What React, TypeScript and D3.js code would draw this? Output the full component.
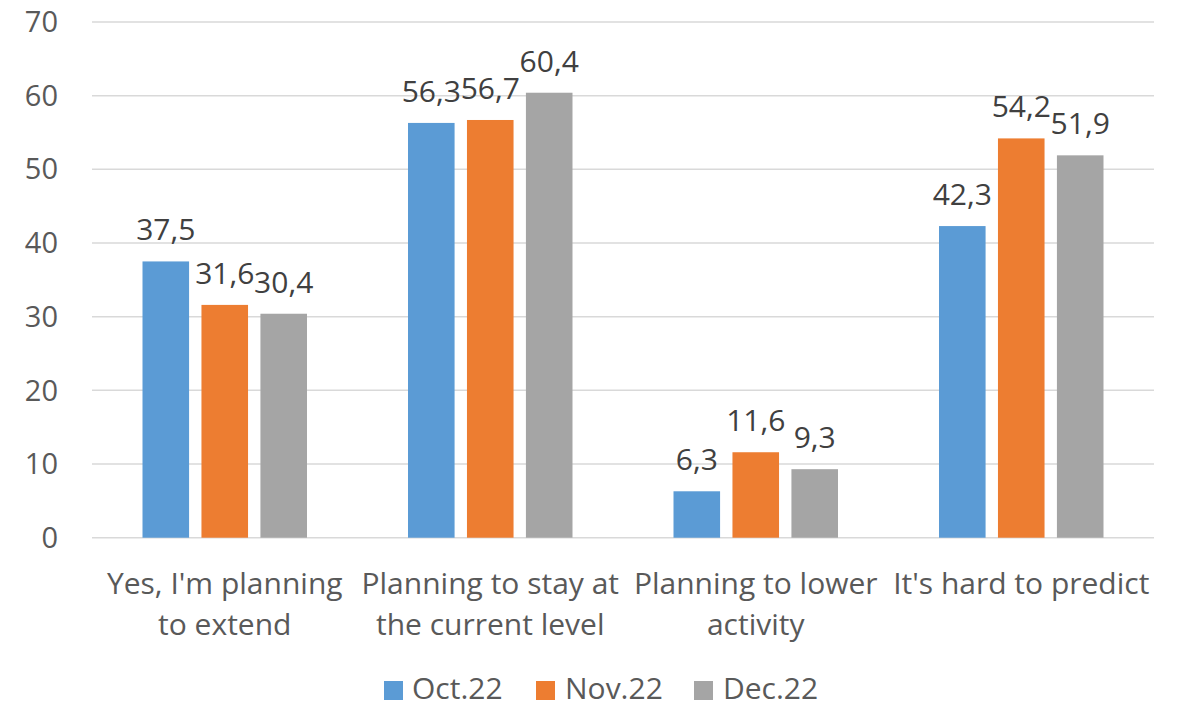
import React from "react";
import * as d3 from "d3";

const categories: string[][] = [
  ["Yes, I'm planning", "to extend"],
  ["Planning to stay at", "the current level"],
  ["Planning to lower", "activity"],
  ["It's hard to predict"],
];
const seriesNames = ["Oct.22", "Nov.22", "Dec.22"];
const oct22 = [37.5, 56.3, 6.3, 42.3];
const nov22 = [31.6, 56.7, 11.6, 54.2];
const dec22 = [30.4, 60.4, 9.3, 51.9];
const seriesValues = [oct22, nov22, dec22];
const colors = ["#5B9BD5", "#ED7D31", "#A5A5A5"];
const yTicks = [0, 10, 20, 30, 40, 50, 60, 70];

const W = 1177;
const H = 703;
const FONT = "'Open Sans', 'Noto Sans', sans-serif";

export default function App() {
  const catIdx = categories.map((_, i) => String(i));
  const x0 = d3.scaleBand<string>().domain(catIdx).range([92, 1154]).padding(0);
  const cw = x0.bandwidth();
  const x1 = d3
    .scaleBand<string>()
    .domain(seriesNames)
    .range([50.5, cw - 50.5])
    .paddingInner(0.21)
    .paddingOuter(0);
  const y = d3.scaleLinear().domain([0, 70]).range([537.7, 22]);
  const fmt = (v: number) => v.toFixed(1).replace(".", ",");

  const legendItems = [
    { sx: 384, tx: 412 },
    { sx: 536, tx: 565 },
    { sx: 694, tx: 723 },
  ];

  return (
    <svg
      width={W}
      height={H}
      style={{ position: "absolute", left: 0, top: 0, background: "#fff" }}
      fontFamily={FONT}
    >
      <rect x={0} y={0} width={W} height={H} fill="#fff" />
      {yTicks.map((t) => (
        <g key={t}>
          <line x1={92} x2={1154} y1={y(t)} y2={y(t)} stroke="#D9D9D9" strokeWidth={1.5} />
          <text
            x={58}
            y={y(t)}
            dy="0.35em"
            textAnchor="end"
            fontSize={29}
            fill="#595959"
          >
            {t}
          </text>
        </g>
      ))}
      {catIdx.map((c, ci) => (
        <g key={c} transform={`translate(${x0(c)},0)`}>
          {seriesNames.map((s, si) => {
            const v = seriesValues[si][ci];
            const bx = x1(s)!;
            return (
              <g key={s}>
                <rect
                  x={bx}
                  y={y(v)}
                  width={x1.bandwidth()}
                  height={y(0) - y(v)}
                  fill={colors[si]}
                />
                <text
                  x={bx + x1.bandwidth() / 2}
                  y={y(v) - 21}
                  textAnchor="middle"
                  fontSize={30}
                  fill="#404040"
                >
                  {fmt(v)}
                </text>
              </g>
            );
          })}
          {categories[ci].map((line, li) => (
            <text
              key={li}
              x={cw / 2}
              y={594 + li * 41}
              textAnchor="middle"
              fontSize={30}
              fill="#595959"
            >
              {line}
            </text>
          ))}
        </g>
      ))}
      {seriesNames.map((s, si) => (
        <g key={s}>
          <rect
            x={legendItems[si].sx}
            y={681}
            width={19}
            height={19}
            fill={colors[si]}
          />
          <text x={legendItems[si].tx} y={699} fontSize={30} fill="#595959">
            {s}
          </text>
        </g>
      ))}
    </svg>
  );
}
